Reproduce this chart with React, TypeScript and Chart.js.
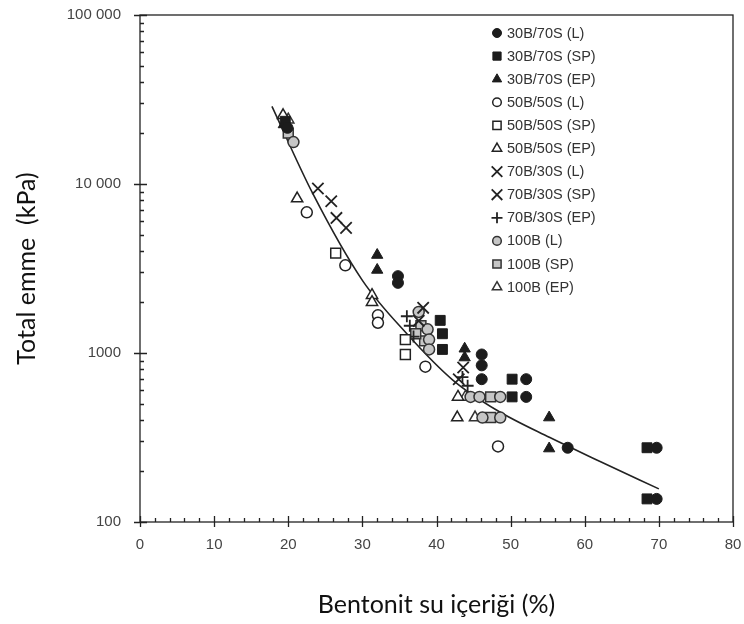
import React, { useEffect, useRef } from 'react';
import { Chart, registerables } from 'chart.js';

Chart.register(...registerables);

// ---- Data (x = bentonite water content %, y = total suction kPa) ----
const s30B70S_L: [number, number][] = [[19.9, 21500], [34.8, 2850], [34.8, 2600], [46.1, 980], [46.1, 845], [46.1, 700], [52.1, 700], [52.1, 550], [57.7, 275], [69.7, 275], [69.7, 137]];
const s30B70S_SP: [number, number][] = [[19.6, 23500], [40.5, 1560], [40.8, 1300], [40.8, 1050], [50.2, 700], [50.2, 550], [68.4, 275], [68.4, 137]];
const s30B70S_EP: [number, number][] = [[19.4, 22500], [32.0, 3800], [32.0, 3100], [43.8, 1060], [43.8, 940], [55.2, 415], [55.2, 272]];
const s50B50S_L: [number, number][] = [[22.5, 6800], [27.7, 3300], [32.1, 1670], [32.1, 1510], [38.5, 830], [48.3, 280]];
const s50B50S_SP: [number, number][] = [[26.4, 3900], [35.8, 1200], [35.8, 980]];
const s50B50S_EP: [number, number][] = [[19.3, 25500], [21.2, 8200], [31.3, 2200], [31.3, 2000], [42.9, 550], [42.8, 415]];
const s70B30S_L: [number, number][] = [[24.0, 9400], [25.8, 7900], [38.2, 1850], [43.6, 820]];
const s70B30S_SP: [number, number][] = [[26.5, 6300], [27.8, 5500], [37.6, 1550], [43.0, 700]];
const s70B30S_EP: [number, number][] = [[36.0, 1650], [36.4, 1450], [36.9, 1250], [43.5, 720], [44.2, 640]];
const s100B_L: [number, number][] = [[20.7, 17700], [37.6, 1750], [38.8, 1380], [39.0, 1200], [39.0, 1050], [44.6, 550], [45.8, 550], [48.6, 550], [46.2, 415], [48.6, 415]];
const s100B_SP: [number, number][] = [[20.0, 20000], [37.9, 1450], [38.4, 1180], [37.2, 1300], [47.3, 550], [47.3, 415]];
const s100B_EP: [number, number][] = [[20.0, 24000], [43.9, 550], [45.2, 415]];

const fitCurveX = [17.8, 23.3, 30, 36, 42.2, 48.2, 55.3, 62, 70];
const fitCurveY = [28770, 8790, 2690, 1300, 692, 457, 316, 229, 157];

const seriesLabels = ['30B/70S (L)', '30B/70S (SP)', '30B/70S (EP)', '50B/50S (L)', '50B/50S (SP)', '50B/50S (EP)', '70B/30S (L)', '70B/30S (SP)', '70B/30S (EP)', '100B (L)', '100B (SP)', '100B (EP)'];
const seriesData = [s30B70S_L, s30B70S_SP, s30B70S_EP, s50B50S_L, s50B50S_SP, s50B50S_EP, s70B30S_L, s70B30S_SP, s70B30S_EP, s100B_L, s100B_SP, s100B_EP];

const xTickLabels = ['0', '10', '20', '30', '40', '50', '60', '70', '80'];
const yTickLabels: Record<number, string> = { 100: '100', 1000: '1000', 10000: '10 000', 100000: '100 000' };

// ---- Styles ----
const BLACK = '#1c1c1c';
const GREY = '#c6c6c6';
type Sty = { shape: string; fill: string; stroke: string; r: number; lr: number; lw: number };
const styles: Sty[] = [
  { shape: 'circle', fill: BLACK, stroke: BLACK, r: 5.5, lr: 4.5, lw: 1 },
  { shape: 'rect', fill: BLACK, stroke: BLACK, r: 7, lr: 5.8, lw: 1 },
  { shape: 'triangle', fill: BLACK, stroke: BLACK, r: 6.5, lr: 5.4, lw: 1 },
  { shape: 'circle', fill: '#ffffff', stroke: '#222', r: 5.5, lr: 4.3, lw: 1.5 },
  { shape: 'rect', fill: '#ffffff', stroke: '#222', r: 7, lr: 5.8, lw: 1.5 },
  { shape: 'triangle', fill: '#ffffff', stroke: '#222', r: 6.5, lr: 5.4, lw: 1.5 },
  { shape: 'crossRot', fill: '#222', stroke: '#222', r: 8, lr: 7.5, lw: 1.8 },
  { shape: 'crossRot', fill: '#222', stroke: '#222', r: 8, lr: 7.5, lw: 1.8 },
  { shape: 'cross', fill: '#222', stroke: '#222', r: 6, lr: 5.5, lw: 1.8 },
  { shape: 'circle', fill: GREY, stroke: '#333', r: 5.5, lr: 4.3, lw: 1.5 },
  { shape: 'rect', fill: GREY, stroke: '#333', r: 7, lr: 5.8, lw: 1.5 },
  { shape: 'triangle', fill: '#ffffff', stroke: '#333', r: 6.5, lr: 5.4, lw: 1.5 },
];

function drawMarker(ctx: CanvasRenderingContext2D, s: Sty, x: number, y: number) {
  const r = s.lr;
  ctx.save();
  ctx.fillStyle = s.fill;
  ctx.strokeStyle = s.stroke;
  ctx.lineWidth = s.lw;
  ctx.beginPath();
  if (s.shape === 'circle') {
    ctx.arc(x, y, r, 0, Math.PI * 2);
    ctx.fill();
    ctx.stroke();
  } else if (s.shape === 'rect') {
    const h = r * Math.SQRT1_2;
    ctx.rect(x - h, y - h, 2 * h, 2 * h);
    ctx.fill();
    ctx.stroke();
  } else if (s.shape === 'triangle') {
    let a = 0;
    ctx.moveTo(x + Math.sin(a) * r, y - Math.cos(a) * r);
    a += (2 * Math.PI) / 3;
    ctx.lineTo(x + Math.sin(a) * r, y - Math.cos(a) * r);
    a += (2 * Math.PI) / 3;
    ctx.lineTo(x + Math.sin(a) * r, y - Math.cos(a) * r);
    ctx.closePath();
    ctx.fill();
    ctx.stroke();
  } else if (s.shape === 'crossRot') {
    const h = r * Math.SQRT1_2;
    ctx.moveTo(x - h, y - h);
    ctx.lineTo(x + h, y + h);
    ctx.moveTo(x - h, y + h);
    ctx.lineTo(x + h, y - h);
    ctx.stroke();
  } else {
    ctx.moveTo(x - r, y);
    ctx.lineTo(x + r, y);
    ctx.moveTo(x, y - r);
    ctx.lineTo(x, y + r);
    ctx.stroke();
  }
  ctx.restore();
}

const decoPlugin = {
  id: 'deco',
  afterDraw(chart: any) {
    const { ctx, chartArea } = chart;
    const { left, right, top, bottom } = chartArea;
    const xs = chart.scales.x;
    const ys = chart.scales.y;
    ctx.save();
    ctx.strokeStyle = '#222';
    ctx.lineWidth = 1.3;
    ctx.strokeRect(left, top, right - left, bottom - top);
    ctx.beginPath();
    for (let v = 0; v <= 80; v += 2) {
      const px = Math.round(xs.getPixelForValue(v)) + 0.5;
      const major = v % 10 === 0;
      ctx.moveTo(px, bottom + (major ? 5 : 0));
      ctx.lineTo(px, bottom - (major ? 6 : 4));
    }
    for (const dec of [100, 1000, 10000]) {
      for (let m = 1; m <= 9; m++) {
        const py = Math.round(ys.getPixelForValue(dec * m)) + 0.5;
        const major = m === 1;
        ctx.moveTo(left - (major ? 6 : 0), py);
        ctx.lineTo(left + (major ? 7 : 4), py);
      }
    }
    const pyTop = Math.round(ys.getPixelForValue(100000)) + 0.5;
    ctx.moveTo(left - 6, pyTop);
    ctx.lineTo(left + 7, pyTop);
    ctx.stroke();

    // legend
    const lx = 497;
    let ly = 33;
    ctx.font = '14.5px "Liberation Sans", Arial, sans-serif';
    ctx.textBaseline = 'middle';
    ctx.textAlign = 'left';
    seriesLabels.forEach((lab, i) => {
      drawMarker(ctx, styles[i], lx, ly);
      ctx.fillStyle = '#333';
      ctx.fillText(lab, lx + 10, ly + 0.5);
      ly += 23.1;
    });
    ctx.restore();
  },
};

export default function App() {
  const ref = useRef<HTMLCanvasElement | null>(null);
  useEffect(() => {
    if (!ref.current) return;
    const scatterSets = seriesData.map((d, i) => ({
      type: 'scatter' as const,
      label: seriesLabels[i],
      data: d.map(([x, y]) => ({ x, y })),
      pointStyle: styles[i].shape,
      pointRadius: styles[i].r,
      pointBackgroundColor: styles[i].fill,
      pointBorderColor: styles[i].stroke,
      pointBorderWidth: styles[i].lw,
      showLine: false,
    }));
    const curve = {
      type: 'line' as const,
      label: 'fit',
      data: fitCurveX.map((x, i) => ({ x, y: fitCurveY[i] })),
      borderColor: '#222',
      borderWidth: 1.6,
      pointRadius: 0,
      tension: 0.4,
      cubicInterpolationMode: 'monotone' as const,
      fill: false,
    };
    const chart = new Chart(ref.current, {
      type: 'scatter',
      data: { datasets: [...scatterSets, curve] as any },
      options: {
        animation: false,
        responsive: false,
        layout: { padding: { top: 15, right: 11, left: 0, bottom: 0 } },
        plugins: { legend: { display: false }, tooltip: { enabled: false } },
        scales: {
          x: {
            type: 'linear',
            min: 0,
            max: 80,
            grid: { display: false, drawTicks: false },
            border: { display: false },
            ticks: {
              stepSize: 10,
              padding: 14,
              color: '#444',
              font: { family: '"Liberation Sans", Arial, sans-serif', size: 15 },
              callback: (v: any) => xTickLabels[Math.round(Number(v) / 10)] ?? '',
            },
            title: {
              display: true,
              text: 'Bentonit su içeriği (%)',
              color: '#111',
              font: { family: 'Lato, "Open Sans", sans-serif', size: 25 },
              padding: { top: 0, bottom: 4 },
            },
            afterFit: (s: any) => {
              s.height = 102;
              s.paddingLeft = 0;
              s.paddingRight = 0;
              s.paddingTop = 0;
              s.paddingBottom = 0;
            },
          },
          y: {
            type: 'logarithmic',
            min: 100,
            max: 100000,
            grid: { display: false, drawTicks: false },
            border: { display: false },
            ticks: {
              autoSkip: false,
              padding: 19,
              color: '#444',
              font: { family: '"Liberation Sans", Arial, sans-serif', size: 15 },
              callback: (v: any) => yTickLabels[Number(v)] ?? '',
            },
            title: {
              display: true,
              text: 'Total emme  (kPa)',
              color: '#111',
              font: { family: 'Lato, "Open Sans", sans-serif', size: 25 },
              padding: { top: 12, bottom: 0 },
            },
            afterFit: (s: any) => {
              s.width = 140;
              s.paddingLeft = 0;
              s.paddingRight = 0;
              s.paddingTop = 0;
              s.paddingBottom = 0;
            },
          },
        },
      },
      plugins: [decoPlugin],
    });
    return () => chart.destroy();
  }, []);
  return (
    <div style={{ position: 'absolute', left: 0, top: 0, width: 744, height: 624, background: '#fff' }}>
      <canvas ref={ref} width={744} height={624} />
    </div>
  );
}
